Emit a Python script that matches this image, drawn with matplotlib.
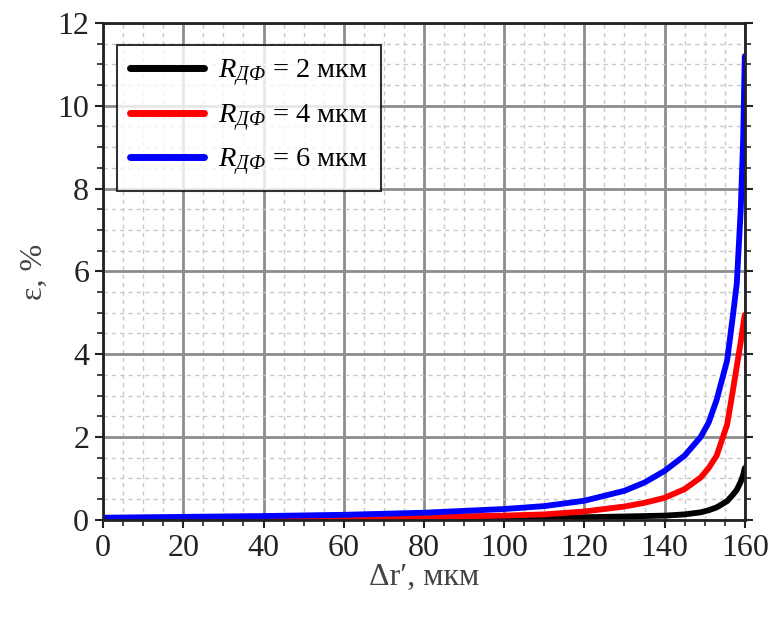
import matplotlib
matplotlib.use("Agg")
import matplotlib.pyplot as plt
from matplotlib.ticker import MultipleLocator

plt.rcParams['font.family'] = ['Liberation Serif', 'DejaVu Serif']
plt.rcParams['mathtext.fontset'] = 'custom'
plt.rcParams['mathtext.rm'] = 'Liberation Serif'
plt.rcParams['mathtext.it'] = 'Liberation Serif:italic'

# data
dr = [0, 20, 40, 60, 80, 100, 110, 120, 130, 135, 140, 145, 149, 151, 153, 155.6, 157, 158, 159, 159.6, 160]
eps_2 = [0.01, 0.01, 0.02, 0.02, 0.03, 0.04, 0.05, 0.06, 0.08, 0.09, 0.1, 0.13, 0.18, 0.23, 0.3, 0.45, 0.6, 0.72, 0.92, 1.08, 1.25]
eps_4 = [0.02, 0.03, 0.04, 0.05, 0.07, 0.1, 0.13, 0.2, 0.32, 0.41, 0.53, 0.74, 1.02, 1.25, 1.55, 2.3, 3.1, 3.7, 4.3, 4.7, 4.95]
eps_6 = [0.05, 0.07, 0.09, 0.12, 0.17, 0.26, 0.33, 0.46, 0.7, 0.9, 1.18, 1.55, 2.0, 2.35, 2.9, 3.85, 4.9, 5.7, 7.5, 9.2, 11.2]
labels = ['$R_{ДФ}$ = 2 мкм', '$R_{ДФ}$ = 4 мкм', '$R_{ДФ}$ = 6 мкм']
colors = ['black', '#ff0000', '#0000ff']

fig = plt.figure(figsize=(7.75, 6.21), dpi=100)
ax = fig.add_axes([0.133, 0.163, 0.828, 0.8])

for y, lab, c in zip([eps_2, eps_4, eps_6], labels, colors):
    ax.plot(dr, y, color=c, lw=4.2, label=lab, solid_capstyle='round')

ax.set_xlim(0, 160)
ax.set_ylim(0, 12)
ax.xaxis.set_major_locator(MultipleLocator(20))
ax.xaxis.set_minor_locator(MultipleLocator(5))
ax.yaxis.set_major_locator(MultipleLocator(2))
ax.yaxis.set_minor_locator(MultipleLocator(0.5))

ax.grid(which='major', color='#8c8c8c', lw=2, ls='-')
ax.grid(which='minor', color='#c8c8c8', lw=1, ls=(0, (3, 3)))
ax.set_axisbelow(True)

for s in ax.spines.values():
    s.set_linewidth(2)
    s.set_color('#222222')

ax.tick_params(which='major', direction='out', length=6, width=1.5, labelsize=23, colors='#222222', pad=4)
ax.tick_params(which='minor', direction='out', length=4, width=1.2, colors='#222222')
ax.tick_params(top=False, right=True, which='both')

ax.set_xlabel('Δr′, мкм', fontsize=23, color='#444444', labelpad=0)
ax.set_ylabel('ε, %', fontsize=23, color='#444444', labelpad=6)

leg = ax.legend(loc='upper left', fontsize=20.5, frameon=True, fancybox=False,
                edgecolor='black', handlelength=2.6, borderpad=0.45,
                labelspacing=0.45, handletextpad=0.5, bbox_to_anchor=(0.0, 0.985))
leg.get_frame().set_linewidth(1.5)
for h in leg.get_lines():
    h.set_linewidth(5)

fig.savefig('out.png', dpi=100)
